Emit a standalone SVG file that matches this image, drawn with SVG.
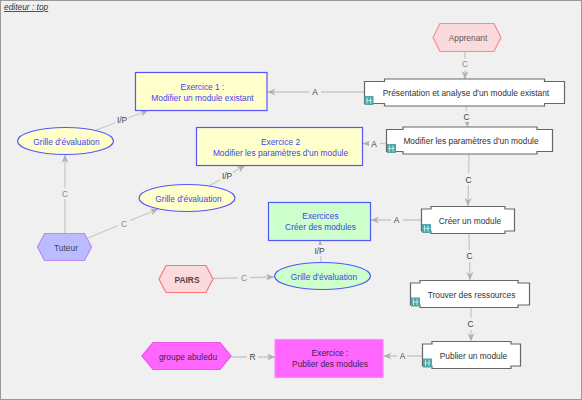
<svg xmlns="http://www.w3.org/2000/svg" width="582" height="400" viewBox="0 0 582 400">
<defs>
<marker id="arr" markerUnits="userSpaceOnUse" markerWidth="9" markerHeight="8" refX="8" refY="4" orient="auto"><path d="M0 0.5L8 4L0 7.5L2.5 4Z" fill="#b0b0b0"/></marker>
<g id="icon"><rect x="0" y="0" width="9" height="9" fill="#4fa8a8"/><path d="M2.500 1.500V7.500M6 1.500V7.500M1.500 4.500H7.500" stroke="#c4e6e6" stroke-width="1" fill="none"/></g>
</defs>
<style>
text{font-family:"Liberation Sans",Arial,sans-serif;font-size:8.4px;text-anchor:middle}
.c{stroke:#c8c8c8;stroke-width:1.3;fill:none}
.a{marker-end:url(#arr)}
.l{fill:#444}
.lg{fill:#888}
.ex{stroke:#5555ff;stroke-width:1.2}
.y{fill:#ffffcc}
.g{fill:#ccffcc}
.bt{fill:#4444ee}
.act{fill:#fff;stroke:#666;stroke-width:1.2}
.at{fill:#333}
.hx{stroke-width:1.2}
.bg{fill:#f0f0f0}
</style>
<rect x="0.500" y="0.500" width="581" height="399" fill="#f0f0f0" stroke="#999" stroke-width="1"/>
<text x="4" y="10" style="text-anchor:start;font-style:italic;text-decoration:underline;fill:#333">editeur : top</text>

<g id="connectors">
<path class="c a" d="M465 52V79"/><rect class="bg" x="461" y="59" width="8" height="11"/><text class="lg" x="465" y="67">C</text>
<path class="c a" d="M466 106L467.500 127"/><rect class="bg" x="462" y="111" width="10" height="11"/><text class="l" x="466.500" y="119.500">C</text>
<path class="c a" d="M469 154L468 206"/><rect class="bg" x="463" y="173" width="11" height="12"/><text class="l" x="468.500" y="182.500">C</text>
<path class="c a" d="M469 233.500L470 280"/><rect class="bg" x="464" y="250" width="11" height="12"/><text class="l" x="469.500" y="259">C</text>
<path class="c a" d="M471 307.500V341"/><rect class="bg" x="465" y="318" width="11" height="12"/><text class="l" x="470.500" y="327">C</text>
<path class="c a" d="M364 92H267.500"/><rect class="bg" x="309" y="86" width="12" height="12"/><text class="l" x="315" y="95">A</text>
<path class="c a" d="M386 143.500H363"/><rect class="bg" x="369" y="138" width="11" height="12"/><text class="l" x="374" y="146.500">A</text>
<path class="c a" d="M421 220H371"/><rect class="bg" x="391" y="214" width="12" height="12"/><text class="l" x="396.500" y="223">A</text>
<path class="c a" d="M422 356H383.500"/><rect class="bg" x="397" y="350" width="10" height="12"/><text class="l" x="402.500" y="359">A</text>
<path class="c a" d="M231 357H275"/><rect class="bg" x="247" y="351" width="11" height="12"/><text class="l" x="252.500" y="360">R</text>
<path class="c a" d="M96 130L148 110.500"/><rect class="bg" x="115" y="114" width="13" height="12"/><text class="l" x="122" y="123">I/P</text>
<path class="c a" d="M209 186L245 165.500"/><rect class="bg" x="220" y="170" width="13" height="11"/><text class="l" x="227" y="178.500">I/P</text>
<path class="c a" d="M321 262L320 240.500"/><rect class="bg" x="313" y="245" width="14" height="11"/><text class="l" x="319.500" y="254">I/P</text>
<path class="c a" d="M65 233V155"/><rect class="bg" x="60" y="188" width="10" height="11"/><text class="lg" x="65" y="197">C</text>
<path class="c a" d="M88 238L158 209"/><rect class="bg" x="118" y="218" width="12" height="11"/><text class="lg" x="124" y="227">C</text>
<path class="c a" d="M213 278.500L274 277"/><rect class="bg" x="238" y="272" width="12" height="11"/><text class="lg" x="244" y="281">C</text>
</g>

<g id="apprenant"><path class="hx" fill="#fadadd" stroke="#ff8a8a" d="M433 37.500L440 23.500H494L501 37.500L494 51.500H440Z"/><text x="468" y="41" fill="#665555">Apprenant</text></g>
<g id="tuteur"><path class="hx" fill="#bbbbff" stroke="#bb88ff" d="M37.500 247L44.500 233.500H84.500L91.500 247L84.500 260.500H44.500Z"/><text x="66" y="250.500" fill="#444455">Tuteur</text></g>
<g id="pairs"><path class="hx" fill="#fadadd" stroke="#ff7777" d="M159 279L166 265.500H206L213 279L206 292.500H166Z"/><text x="187" y="282.500" fill="#554444" font-weight="bold">PAIRS</text></g>
<g id="groupe"><path class="hx" fill="#ff66ff" stroke="#ee55ee" d="M142 356L153 342.500H220L231 356L220 369.500H153Z"/><text x="188" y="359.500" fill="#442244">groupe abuledu</text></g>

<g id="ex1"><rect class="ex y" x="135.500" y="72.500" width="131.500" height="38"/><text class="bt" x="202.500" y="90">Exercice 1 :</text><text class="bt" x="202.500" y="100.500">Modifier un module existant</text></g>
<g id="ex2"><rect class="ex y" x="196.500" y="127.500" width="166" height="38"/><text class="bt" x="280.500" y="145">Exercice 2</text><text class="bt" x="280.500" y="155.500">Modifier les paramètres d'un module</text></g>
<g id="ex3"><rect class="ex g" x="268.500" y="202.500" width="102" height="38"/><text class="bt" x="320.500" y="219">Exercices</text><text class="bt" x="320.500" y="230">Créer des modules</text></g>
<g id="ex4"><rect fill="#ff66ff" stroke="#ff88ff" stroke-width="1.2" x="275" y="339.500" width="108" height="38"/><text x="330" y="356" fill="#442244">Exercice :</text><text x="330" y="367" fill="#442244">Publier des modules</text></g>

<g id="ev1"><ellipse class="ex y" cx="65.500" cy="141" rx="48" ry="13.500"/><text class="bt" x="66.500" y="144.500">Grille d'évaluation</text></g>
<g id="ev2"><ellipse class="ex y" cx="187" cy="198" rx="48" ry="13.500"/><text class="bt" x="188.500" y="201.500">Grille d'évaluation</text></g>
<g id="ev3"><ellipse class="ex g" cx="322.500" cy="276" rx="48" ry="13.500"/><text class="bt" x="324" y="279.500">Grille d'évaluation</text></g>

<g id="act1"><path class="act" d="M364.500 81.500H384.500V79H544.500V81.500H564.500V103.500H544.500V106H384.500V103.500H364.500Z"/><use href="#icon" x="364.500" y="96"/><text class="at" x="466" y="96">Présentation et analyse d'un module existant</text></g>
<g id="act2"><path class="act" d="M386.500 129.500H403V127H537V129.500H552.500V151.500H537V154H403V151.500H386.500Z"/><use href="#icon" x="387" y="144"/><text class="at" x="471" y="144">Modifier les paramètres d'un module</text></g>
<g id="act3"><path class="act" d="M421.500 209H431V206.500H505V209H514.500V231H505V233.500H431V231H421.500Z"/><use href="#icon" x="422" y="224"/><text class="at" x="470" y="223.500">Créer un module</text></g>
<g id="act4"><path class="act" d="M410.500 283H420V280.500H518V283H529.500V305H518V307.500H420V305H410.500Z"/><use href="#icon" x="411" y="297.500"/><text class="at" x="471.500" y="297.500">Trouver des ressources</text></g>
<g id="act5"><path class="act" d="M422.500 344H432V341.500H511V344H520.500V366H511V368.500H432V366H422.500Z"/><use href="#icon" x="423" y="358.500"/><text class="at" x="473.500" y="358.500">Publier un module</text></g>
</svg>
